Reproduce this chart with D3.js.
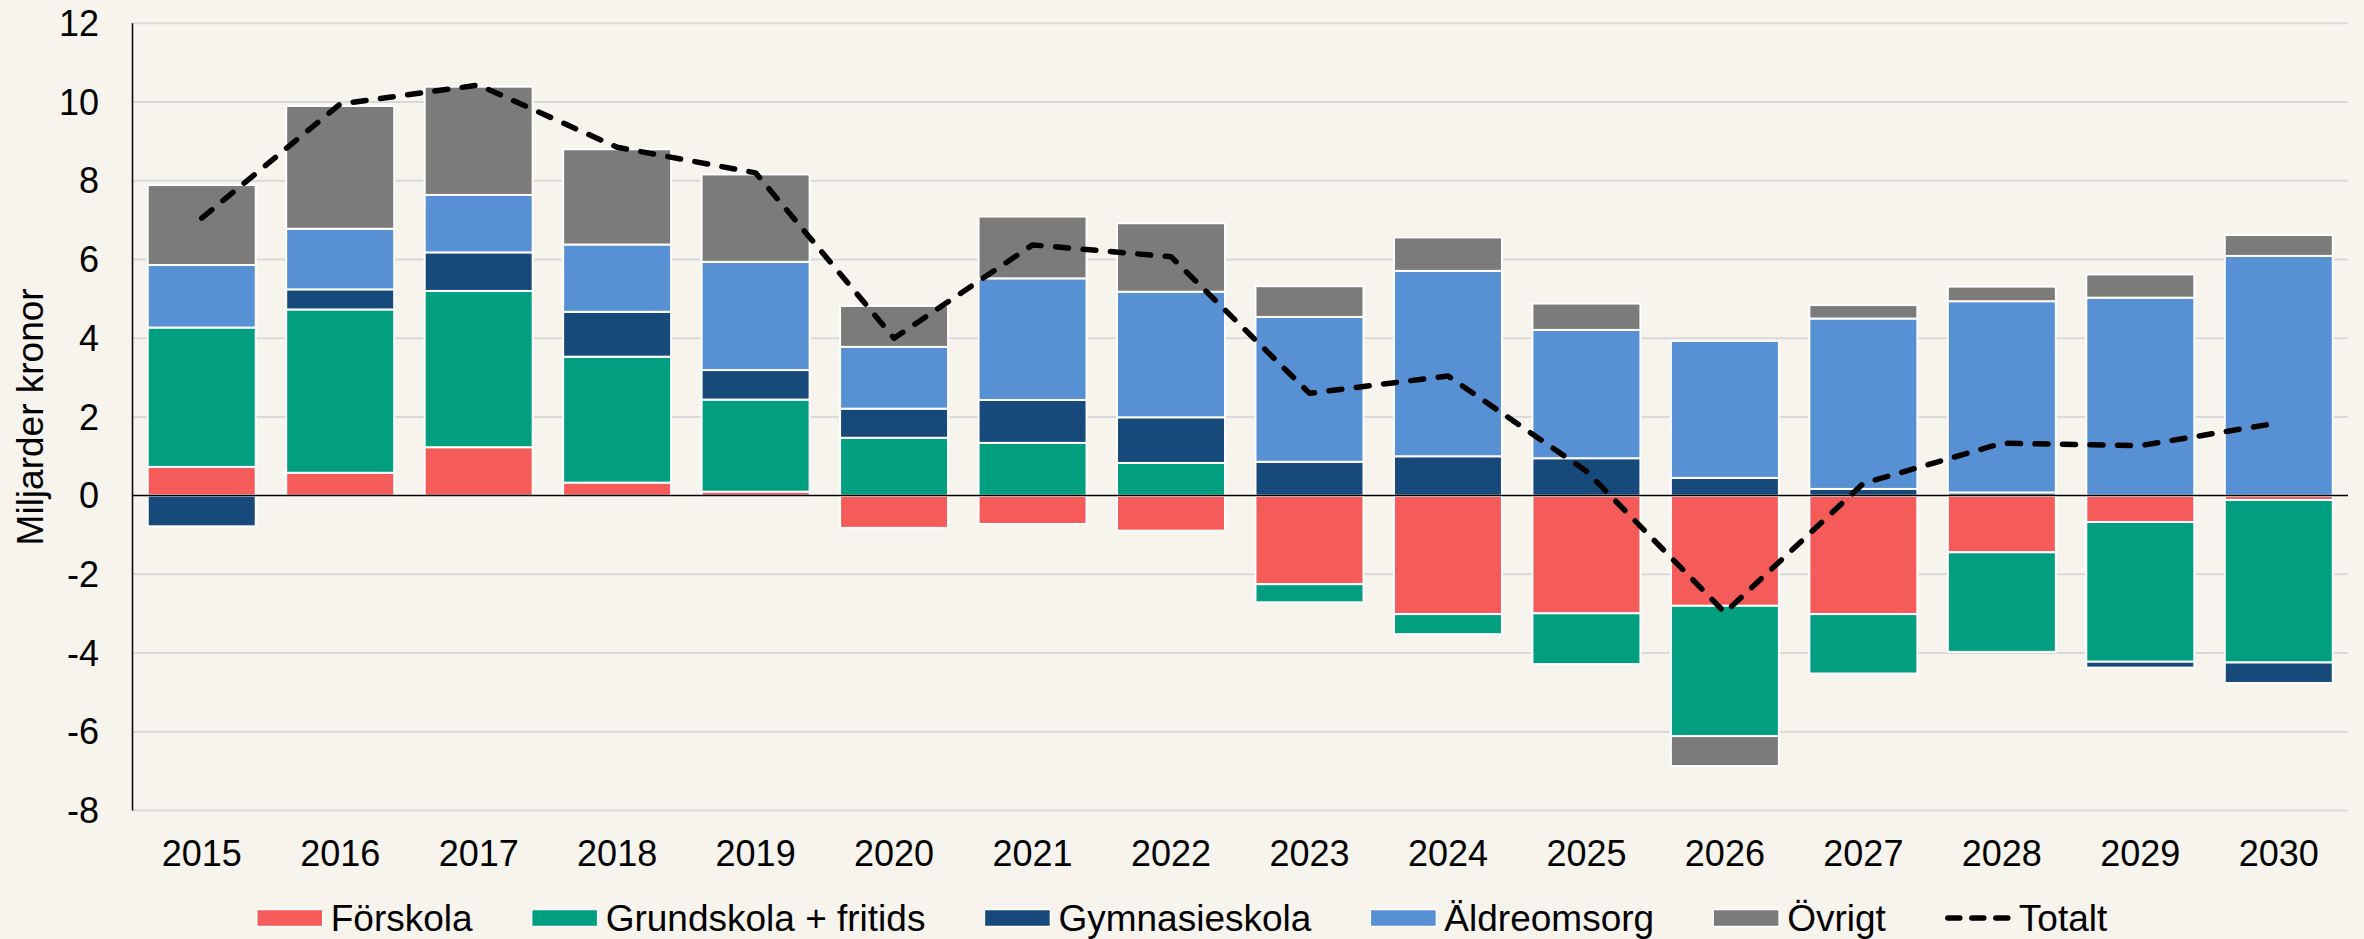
<!DOCTYPE html>
<html lang="sv">
<head>
<meta charset="utf-8">
<title>Kostnadsutveckling</title>
<script src="https://cdn.jsdelivr.net/npm/d3@7/dist/d3.min.js"></script>
<style>
    body { margin: 0; background: #f7f3ed; }
    svg { display: block; font-family: "Liberation Sans", Arial, sans-serif; }
    .grid line { stroke: #d9d9d9; stroke-width: 2; }
</style>
</head>
<body>
<svg id="chart" width="2364" height="939"></svg>
<script>
// data (miljarder kronor)
const years = ["2015","2016","2017","2018","2019","2020","2021","2022","2023","2024","2025","2026","2027","2028","2029","2030"];
const forskola   = [0.73, 0.58, 1.23, 0.33, 0.10, -0.82, -0.72, -0.89, -2.25, -3.01, -2.99, -2.80, -3.01, -1.44, -0.67, -0.11];
const grundskola = [3.54, 4.15, 3.97, 3.20, 2.34, 1.47, 1.34, 0.83, -0.46, -0.51, -1.29, -3.31, -1.51, -2.53, -3.55, -4.13];
const gymnasie   = [-0.78, 0.51, 0.98, 1.14, 0.75, 0.74, 1.09, 1.16, 0.86, 1.00, 0.95, 0.45, 0.17, 0.08, -0.15, -0.52];
const aldre      = [1.59, 1.54, 1.46, 1.71, 2.75, 1.57, 3.09, 3.19, 3.68, 4.71, 3.26, 3.48, 4.33, 4.86, 5.03, 6.09];
const ovrigt     = [2.03, 3.12, 2.75, 2.42, 2.22, 1.04, 1.57, 1.74, 0.78, 0.85, 0.67, -0.76, 0.34, 0.37, 0.59, 0.53];
const totalt     = [7.05, 9.95, 10.43, 8.85, 8.20, 4.00, 6.37, 6.07, 2.60, 3.04, 0.62, -2.97, 0.31, 1.33, 1.27, 1.85];

const seriesNames = ["Förskola", "Grundskola + fritids", "Gymnasieskola", "Äldreomsorg", "Övrigt"];
const seriesValues = [forskola, grundskola, gymnasie, aldre, ovrigt];
const colors = ["#f55b58", "#019e7f", "#174a7b", "#5890d4", "#7c7b7a"];
const yTicks = [-8, -6, -4, -2, 0, 2, 4, 6, 8, 10, 12];

const svg = d3.select("#chart");
const plot = { left: 132.5, right: 2348, top: 23.3, bottom: 810.5 };

const x = d3.scaleBand().domain(years)
    .range([plot.left, plot.right])
    .paddingInner(0.22).paddingOuter(0.11);
const y = d3.scaleLinear().domain([-8, 12]).range([plot.bottom, plot.top]);

// table for stacking
const rows = years.map((yr, i) => {
    const r = { year: yr };
    seriesNames.forEach((s, j) => r[s] = seriesValues[j][i]);
    return r;
});
const stacked = d3.stack().keys(seriesNames).offset(d3.stackOffsetDiverging)(rows);

// gridlines
svg.append("g").attr("class", "grid")
    .selectAll("line").data(yTicks.filter(t => t !== 0)).enter().append("line")
    .attr("x1", plot.left).attr("x2", plot.right)
    .attr("y1", d => y(d)).attr("y2", d => y(d));

// bars
svg.append("g").selectAll("g").data(stacked).enter().append("g")
    .attr("fill", (d, i) => colors[i])
    .selectAll("rect").data(d => d).enter().append("rect")
    .attr("x", d => x(d.data.year))
    .attr("width", x.bandwidth())
    .attr("y", d => y(Math.max(d[0], d[1])))
    .attr("height", d => Math.abs(y(d[0]) - y(d[1])))
    .attr("stroke", "#ffffff")
    .attr("stroke-width", 2);

// zero line + y axis line
svg.append("line")
    .attr("x1", plot.left).attr("x2", plot.right)
    .attr("y1", y(0)).attr("y2", y(0))
    .attr("stroke", "#000").attr("stroke-width", 1.5);
svg.append("line")
    .attr("x1", plot.left).attr("x2", plot.left)
    .attr("y1", plot.top).attr("y2", plot.bottom)
    .attr("stroke", "#000").attr("stroke-width", 1.5);

// y tick labels
svg.append("g").selectAll("text").data(yTicks).enter().append("text")
    .attr("x", 99).attr("y", d => y(d))
    .attr("dy", "0.35em")
    .attr("text-anchor", "end")
    .attr("font-size", 36)
    .text(d => d);

// x tick labels
svg.append("g").selectAll("text").data(years).enter().append("text")
    .attr("x", d => x(d) + x.bandwidth() / 2)
    .attr("y", 866)
    .attr("text-anchor", "middle")
    .attr("font-size", 36)
    .text(d => d);

// y axis title
svg.append("text")
    .attr("transform", "translate(43," + ((plot.top + plot.bottom) / 2) + ") rotate(-90)")
    .attr("text-anchor", "middle")
    .attr("font-size", 37)
    .text("Miljarder kronor");

// totals line
const line = d3.line()
    .x((d, i) => x(years[i]) + x.bandwidth() / 2)
    .y(d => y(d));
svg.append("path").datum(totalt)
    .attr("d", line)
    .attr("fill", "none")
    .attr("stroke", "#000")
    .attr("stroke-width", 5.5)
    .attr("stroke-linecap", "round")
    .attr("stroke-linejoin", "round")
    .attr("stroke-dasharray", "13 14.5");

// legend
const legend = svg.append("g");
let lx = 0;
const items = seriesNames.map((s, i) => ({ name: s, color: colors[i] })).concat([{ name: "Totalt", line: true }]);
items.forEach(it => {
    const g = legend.append("g").attr("transform", "translate(" + lx + ",0)");
    if (it.line) {
        g.append("line").attr("x1", 3).attr("x2", 63).attr("y1", 918).attr("y2", 918)
            .attr("stroke", "#000").attr("stroke-width", 5.5)
            .attr("stroke-linecap", "round")
            .attr("stroke-dasharray", "12 12");
    } else {
        g.append("rect").attr("x", 0).attr("y", 909.5).attr("width", 66).attr("height", 17)
            .attr("fill", it.color).attr("stroke", "#fff").attr("stroke-width", 1.5);
    }
    const t = g.append("text").attr("x", 74).attr("y", 930.5)
        .attr("font-size", 37).text(it.name);
    lx += 74 + t.node().getComputedTextLength() + 59;
});
const legendWidth = lx - 59;
legend.attr("transform", "translate(" + (2364 / 2 - legendWidth / 2) + ",0)");
</script>
</body>
</html>
